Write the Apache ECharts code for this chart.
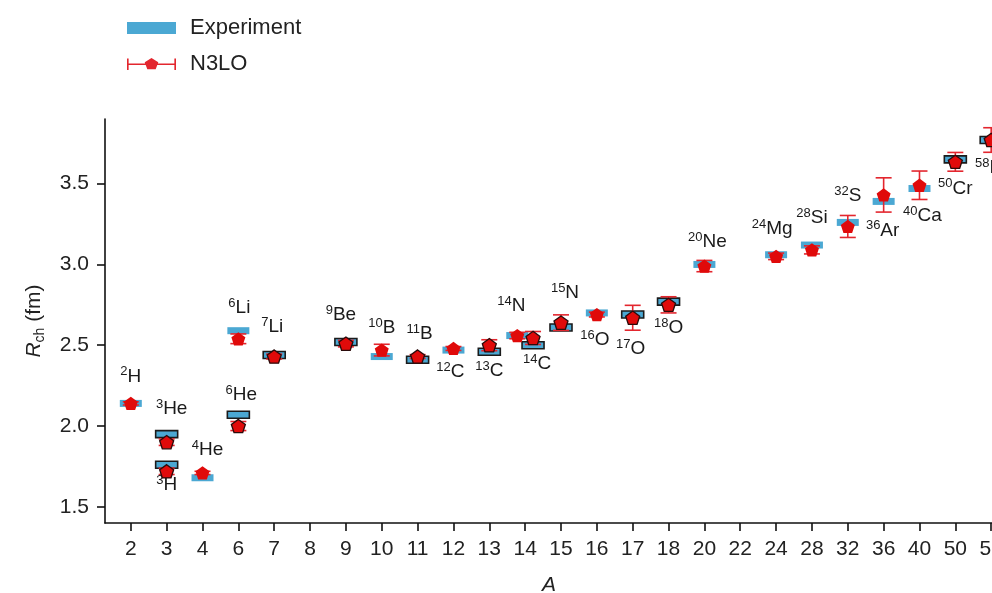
<!DOCTYPE html>
<html>
<head>
<meta charset="utf-8">
<script src="https://cdn.jsdelivr.net/npm/echarts@6.0.0/dist/echarts.min.js"></script>
<style>
  html, body { margin: 0; padding: 0; background: #fff; }
  #chart { width: 992px; height: 593px; }
</style>
</head>
<body>
<div id="chart"></div>
<script>
// mass number tick labels along the x axis (58 is cut off at the right edge)
const massTicks = ['2', '3', '4', '6', '7', '8', '9', '10', '11', '12', '13', '14', '15', '16', '17', '18', '20', '22', '24', '28', '32', '36', '40', '50', '58'];

const elements = ['H', 'H', 'He', 'He', 'He', 'Li', 'Li', 'Be', 'B', 'B', 'C', 'C', 'N', 'C', 'N', 'O', 'O', 'O', 'Ne', 'Mg', 'Si', 'S', 'Ar', 'Ca', 'Cr', 'Ni'];
const massNumbers = [2, 3, 3, 4, 6, 6, 7, 9, 10, 11, 12, 13, 14, 14, 15, 16, 17, 18, 20, 24, 28, 32, 36, 40, 50, 58];

// charge radius in fm
const experiment = [2.14, 1.76, 1.95, 1.68, 2.07, 2.59, 2.44, 2.52, 2.43, 2.41, 2.47, 2.46, 2.56, 2.50, 2.61, 2.70, 2.69, 2.77, 3.00, 3.06, 3.12, 3.26, 3.39, 3.47, 3.65, 3.77];
const n3lo = [2.14, 1.72, 1.90, 1.71, 2.00, 2.54, 2.43, 2.51, 2.47, 2.43, 2.48, 2.50, 2.56, 2.545, 2.64, 2.69, 2.67, 2.75, 2.99, 3.05, 3.09, 3.235, 3.43, 3.49, 3.635, 3.77];
const n3loError = [0.01, 0.02, 0.02, 0.01, 0.028, 0.03, 0.015, 0.02, 0.036, 0.012, 0.012, 0.034, 0.02, 0.04, 0.048, 0.015, 0.077, 0.05, 0.035, 0.02, 0.025, 0.068, 0.106, 0.088, 0.058, 0.076];

// nuclei drawn with a dark outline
const outlined = ['3H', '3He', '6He', '7Li', '9Be', '11B', '13C', '14C', '15N', '17O', '18O', '50Cr', '58Ni'];
// small sideways shift where two nuclei share one A and would overlap
const sideShift = { '14N': -0.22, '14C': 0.22 };
// label placement in pixels relative to the experiment box
const labelOffsets = {
  '2H': [0, -27], '3H': [0, 20], '3He': [5, -25], '4He': [5, -28], '6He': [3, -20], '6Li': [1, -23],
  '7Li': [-2, -28], '9Be': [-5, -27], '10B': [0, -29], '11B': [2, -26], '12C': [-3, 22], '13C': [0, 19],
  '14N': [-6, -30], '14C': [4, 19], '15N': [4, -35], '16O': [-2, 27], '17O': [-2, 34], '18O': [0, 26],
  '20Ne': [3, -23], '24Mg': [-4, -26], '28Si': [0, -27], '32S': [0, -27], '36Ar': [-1, 29], '40Ca': [3, 27],
  '50Cr': [0, 29], '58Ni': [0, 28]
};

const font = '"Liberation Sans", Arial, Helvetica, sans-serif';
const blue = '#4ba8d3';
const red = '#e3262e';
const names = elements.map((el, i) => massNumbers[i] + el);
const xPos = names.map((n, i) => massTicks.indexOf(String(massNumbers[i])) + (sideShift[n] || 0));
const tickIdx = massTicks.map((t, i) => i);

const pentagon = 'path://M0,-10L9.51,-3.09L5.88,8.09L-5.88,8.09L-9.51,-3.09Z';
const errIcon = 'path://M0,0.5H1.6V13.5H0Z M46.4,0.5H48V13.5H46.4Z M0,6.2H48V7.8H0Z M24,0L30.66,4.84L28.11,12.66L19.89,12.66L17.34,4.84Z';

const chart = echarts.init(document.getElementById('chart'));

const option = {
  animation: false,
  textStyle: { fontFamily: font },
  legend: {
    orient: 'vertical',
    left: 127,
    top: 17,
    padding: 0,
    itemWidth: 49,
    itemHeight: 12,
    itemGap: 14,
    selectedMode: false,
    symbolKeepAspect: false,
    textStyle: { fontSize: 22, color: '#222', fontFamily: font, padding: [0, 0, 0, 9] },
    data: [
      { name: 'Experiment', icon: 'rect', itemStyle: { color: blue } },
      { name: 'N3LO', icon: errIcon, itemStyle: { color: red } }
    ]
  },
  grid: { left: 105, right: -25, top: 119, bottom: 70, outerBoundsMode: 'none' },
  xAxis: {
    type: 'value',
    min: -0.72,
    max: 24.72,
    splitLine: { show: false },
    axisLine: { show: true, onZero: false, lineStyle: { color: '#111', width: 1.6 } },
    axisTick: { show: true, customValues: tickIdx, length: 8, lineStyle: { color: '#111', width: 1.6 } },
    axisLabel: {
      customValues: tickIdx,
      formatter: v => massTicks[Math.round(v)],
      fontSize: 21, color: '#222', margin: 16, fontFamily: font
    },
    name: 'A',
    nameLocation: 'middle',
    nameGap: 52,
    nameTextStyle: { fontStyle: 'italic', fontSize: 21, color: '#222', padding: [0, 24, 0, 0] }
  },
  yAxis: {
    type: 'value',
    min: 1.4,
    max: 3.9,
    splitLine: { show: false },
    axisLine: { show: true, onZero: false, lineStyle: { color: '#111', width: 1.6 } },
    axisTick: { show: true, customValues: [1.5, 2, 2.5, 3, 3.5], length: 8, lineStyle: { color: '#111', width: 1.6 } },
    axisLabel: {
      customValues: [1.5, 2, 2.5, 3, 3.5],
      formatter: v => v.toFixed(1),
      fontSize: 21, color: '#222', margin: 16, fontFamily: font
    },
    name: '{i|R}{s|ch} (fm)',
    nameLocation: 'middle',
    nameRotate: 90,
    nameGap: 58,
    nameTextStyle: {
      fontSize: 21, color: '#222', lineHeight: 26,
      rich: {
        i: { fontStyle: 'italic', fontSize: 21, lineHeight: 26, color: '#222' },
        s: { fontSize: 14, lineHeight: 14, verticalAlign: 'bottom', color: '#222' }
      }
    }
  },
  series: [
    {
      name: 'Experiment',
      type: 'custom',
      itemStyle: { color: blue },
      encode: { x: 0, y: 1 },
      data: names.map((n, i) => [xPos[i], experiment[i]]),
      renderItem: (params, api) => {
        const p = api.coord([api.value(0), api.value(1)]);
        const edge = outlined.includes(names[params.dataIndex]);
        return {
          type: 'rect',
          shape: { x: p[0] - 11, y: p[1] - 3.5, width: 22, height: 7 },
          style: { fill: blue, stroke: edge ? '#1b1b1b' : null, lineWidth: edge ? 1.6 : 0 }
        };
      }
    },
    {
      name: 'N3LO',
      type: 'custom',
      itemStyle: { color: red },
      encode: { x: 0, y: 1 },
      data: names.map((n, i) => [xPos[i], n3lo[i], n3loError[i]]),
      renderItem: (params, api) => {
        const x = api.value(0), v = api.value(1), e = api.value(2);
        const hi = api.coord([x, v + e]);
        const lo = api.coord([x, v - e]);
        const w = 8;
        const st = { stroke: red, lineWidth: 1.6, fill: null };
        return {
          type: 'group',
          children: [
            { type: 'line', shape: { x1: hi[0], y1: hi[1], x2: lo[0], y2: lo[1] }, style: st },
            { type: 'line', shape: { x1: hi[0] - w, y1: hi[1], x2: hi[0] + w, y2: hi[1] }, style: st },
            { type: 'line', shape: { x1: lo[0] - w, y1: lo[1], x2: lo[0] + w, y2: lo[1] }, style: st }
          ]
        };
      }
    },
    {
      name: 'N3LO',
      type: 'scatter',
      symbol: pentagon,
      symbolSize: [14, 13.3],
      itemStyle: { color: '#e00a0a', opacity: 1 },
      data: names.map((n, i) => ({
        value: [xPos[i], n3lo[i]],
        itemStyle: outlined.includes(n) ? { borderColor: '#2b0b0b', borderWidth: 1.3 } : { borderWidth: 0 }
      }))
    },
    {
      name: 'labels',
      type: 'custom',
      silent: true,
      encode: { x: 0, y: 1 },
      data: names.map((n, i) => [xPos[i], experiment[i]]),
      renderItem: (params, api) => {
        const i = params.dataIndex;
        const p = api.coord([api.value(0), api.value(1)]);
        const off = labelOffsets[names[i]];
        return {
          type: 'text',
          x: p[0] + off[0],
          y: p[1] + off[1],
          style: {
            text: '{s|' + massNumbers[i] + '}{e|' + elements[i] + '}',
            align: 'center',
            verticalAlign: 'middle',
            fill: '#1a1a1a',
            rich: {
              s: { fontSize: 13, lineHeight: 13, verticalAlign: 'top', fontFamily: font, fill: '#1a1a1a' },
              e: { fontSize: 19, lineHeight: 22, fontFamily: font, fill: '#1a1a1a' }
            }
          }
        };
      }
    }
  ]
};

chart.setOption(option);
</script>
</body>
</html>
